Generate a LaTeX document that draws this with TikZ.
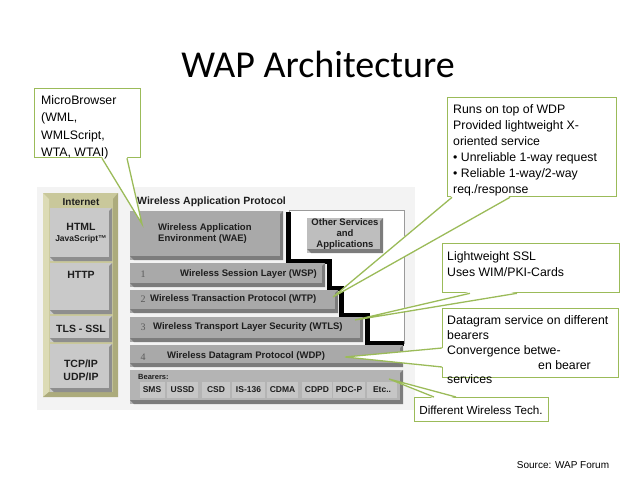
\documentclass[tikz,border=0pt]{standalone}
\usepackage{fontspec}
\setmainfont{Liberation Sans}
\newfontfamily\titlefont{Carlito}
\newfontfamily\numfont{Liberation Serif}

\definecolor{callgreen}{HTML}{9BBB59}
\definecolor{picbg}{HTML}{F3F3F3}
\definecolor{olivemid}{HTML}{C9C89B}
\definecolor{olivelight}{HTML}{DCDBB5}
\definecolor{olivedark}{HTML}{ACAB7C}
\definecolor{inetgray}{HTML}{C9C9C9}
\definecolor{inetdark}{HTML}{8E8E8E}
\definecolor{laygray}{HTML}{A9A9A9}
\definecolor{laydark}{HTML}{7C7C7C}
\definecolor{bearergray}{HTML}{B4B4B4}
\definecolor{cellgray}{HTML}{C6C6C6}
\definecolor{othergray}{HTML}{BEBEBE}
\definecolor{framegray}{HTML}{9A9A9A}
\definecolor{diagtext}{HTML}{1E1E1E}
\definecolor{numgray}{HTML}{5A5A5A}

\tikzset{
  callbox/.style={draw=callgreen, line width=1.3pt, fill=white, inner sep=0pt, anchor=north west},
  wedge/.style={draw=callgreen, line width=1.3pt},
  calltext/.style={font=\fontsize{12.3}{#1}\selectfont, align=left, anchor=north west, inner sep=0pt},
  layer/.style={fill=laygray},
  laybevel/.style={fill=laydark},
  inetbox/.style={fill=inetgray},
  inetbevel/.style={fill=inetdark},
  laytext/.style={font=\bfseries\fontsize{9.5}{11}\selectfont, text=diagtext, inner sep=0pt, anchor=west},
  laynum/.style={font=\numfont\fontsize{10}{12}\selectfont, text=numgray, inner sep=0pt},
  inettext/.style={font=\bfseries\fontsize{10.5}{12}\selectfont, text=diagtext, inner sep=0pt},
  cell/.style={fill=cellgray, font=\bfseries\fontsize{8.5}{10}\selectfont, text=diagtext, inner sep=0pt, minimum height=16pt},
  stair/.style={line width=5pt, black}
}

\begin{document}
\begin{tikzpicture}[x=1pt,y=-1pt]
\useasboundingbox (0,0) rectangle (638,479);

\node[font=\titlefont\fontsize{38}{44}\selectfont] (title) at (318,64) {WAP Architecture};

% the protocol picture
\fill[picbg] (37,187) rectangle (415,410);

% Internet side
\fill[olivemid] (43,193) rectangle (118,397);
\fill[olivelight] (43,193) -- (49,199) -- (49,392) -- (43,397) -- cycle;
\fill[olivedark] (118,193) -- (118,397) -- (43,397) -- (49,392) -- (113,392) -- (113,199) -- cycle;
\fill[inetbox] (50,208) rectangle (112,261);
\fill[inetbevel] (50,257) -- (109,257) -- (109,211) -- (112,208) -- (112,261) -- (54,261) -- cycle;
\fill[inetbox] (50,263) rectangle (112,314);
\fill[inetbevel] (50,310) -- (109,310) -- (109,266) -- (112,263) -- (112,314) -- (54,314) -- cycle;
\fill[inetbox] (50,316) rectangle (112,342);
\fill[inetbevel] (50,338) -- (109,338) -- (109,319) -- (112,316) -- (112,342) -- (54,342) -- cycle;
\fill[inetbox] (50,344) rectangle (112,392);
\fill[inetbevel] (50,388) -- (109,388) -- (109,347) -- (112,344) -- (112,392) -- (54,392) -- cycle;

\node[inettext, font=\bfseries\fontsize{10}{12}\selectfont] (internet) at (81,202) {Internet};
\node[inettext] (html) at (81,227) {HTML};
\node[inettext, font=\bfseries\fontsize{8.5}{10}\selectfont] (js) at (81,239) {JavaScript™};
\node[inettext] (http) at (81,275) {HTTP};
\node[inettext] (tls) at (81,329) {TLS - SSL};
\node[inettext] (tcp) at (81,364) {TCP/IP};
\node[inettext] (udp) at (81,377) {UDP/IP};

% WAP side
\node[laytext, font=\bfseries\fontsize{10.5}{12}\selectfont] (waphead) at (137,202) {Wireless Application Protocol};
\filldraw[fill=white, draw=framegray, line width=0.8pt] (289,210) -- (404,210) -- (404,343) -- (367,343) -- (367,315) -- (340,315) -- (340,289) -- (328,289) -- (328,261) -- (289,261) -- cycle;
\draw[stair] (288,212) -- (288,261) -- (329,261) -- (329,288) -- (341,288) -- (341,315) -- (367,315) -- (367,343) -- (404,343);

\fill[layer] (130,211) rectangle (283,260);
\fill[laybevel] (130,256) -- (280,256) -- (280,214) -- (283,211) -- (283,260) -- (134,260) -- cycle;
\fill[layer] (130,263) rectangle (325,287);
\fill[laybevel] (130,283) -- (322,283) -- (322,266) -- (325,263) -- (325,287) -- (134,287) -- cycle;
\fill[layer] (130,290) rectangle (338,313);
\fill[laybevel] (130,309) -- (335,309) -- (335,293) -- (338,290) -- (338,313) -- (134,313) -- cycle;
\fill[layer] (130,317) rectangle (363,342);
\fill[laybevel] (130,338) -- (360,338) -- (360,320) -- (363,317) -- (363,342) -- (134,342) -- cycle;
\fill[layer] (130,345) rectangle (403,367);
\fill[laybevel] (130,363) -- (400,363) -- (400,348) -- (403,345) -- (403,367) -- (134,367) -- cycle;
\fill[bearergray] (130,370) rectangle (403,404);
\fill[laybevel] (130,400) -- (400,400) -- (400,373) -- (403,370) -- (403,404) -- (134,404) -- cycle;
\fill[othergray] (307,218) rectangle (383,253);
\fill[laybevel] (307,249) -- (380,249) -- (380,221) -- (383,218) -- (383,253) -- (311,253) -- cycle;

\node[laytext, align=left] (wae) at (158,233.5) {Wireless Application\\Environment (WAE)};
\node[laytext, anchor=center, align=center, font=\bfseries\fontsize{9.5}{10.8}\selectfont] (other) at (345,234) {Other Services\\and\\Applications};
\node[laynum] (n1) at (143,274) {1};
\node[laytext] (wsp) at (180,274) {Wireless Session Layer (WSP)};
\node[laynum] (n2) at (143,299) {2};
\node[laytext] (wtp) at (150,299) {Wireless Transaction Protocol (WTP)};
\node[laynum] (n3) at (143,327) {3};
\node[laytext] (wtls) at (153,327) {Wireless Transport Layer Security (WTLS)};
\node[laynum] (n4) at (143,357) {4};
\node[laytext] (wdp) at (167,356) {Wireless Datagram Protocol (WDP)};
\node[laytext, font=\bfseries\fontsize{7.5}{9}\selectfont] (bearers) at (138,377) {Bearers:};
\node[cell, minimum width=25pt] (sms) at (152,390) {SMS};
\node[cell, minimum width=31pt] (ussd) at (182.5,390) {USSD};
\node[cell, minimum width=28pt] (csd) at (216,390) {CSD};
\node[cell, minimum width=33pt] (is) at (248.5,390) {IS-136};
\node[cell, minimum width=31pt] (cdma) at (282.5,390) {CDMA};
\node[cell, minimum width=30pt] (cdpd) at (317,390) {CDPD};
\node[cell, minimum width=32pt] (pdc) at (349,390) {PDC-P};
\node[cell, minimum width=30pt] (etc) at (382,390) {Etc..};

\coordinate (tipwae) at (142,224);
\coordinate (tipwtp) at (333,297);
\coordinate (tipwtls) at (355,320);
\coordinate (tipwdp) at (345,357);
\coordinate (tipbear) at (389,379);

% callouts
\node[callbox, minimum width=106pt, minimum height=69pt] (mbbox) at (34,88) {};
\fill[white] ([xshift=68pt,yshift=1.5pt]mbbox.south west) -- (tipwae) -- ([xshift=93pt,yshift=1.5pt]mbbox.south west) -- cycle;
\draw[wedge] ([xshift=68pt]mbbox.south west) -- (tipwae) -- ([xshift=93pt]mbbox.south west);
\node[calltext=17.3] (mbtext) at (41,95.5) {MicroBrowser\\(WML,\\WMLScript,\\WTA, WTAI)};

\node[callbox, minimum width=169pt, minimum height=99pt] (runbox) at (447,97) {};
\fill[white] ([xshift=5pt,yshift=1.5pt]runbox.south west) -- (tipwtp) -- ([xshift=63pt,yshift=1.5pt]runbox.south west) -- cycle;
\draw[wedge] ([xshift=5pt]runbox.south west) -- (tipwtp) -- ([xshift=63pt]runbox.south west);
\node[calltext=15.9] (runtext) at (453,104.5) {Runs on top of WDP\\Provided lightweight X-\\oriented service\\• Unreliable 1-way request\\• Reliable 1-way/2-way\\req./response};

\node[callbox, minimum width=177pt, minimum height=49pt] (sslbox) at (442,243) {};
\fill[white] ([xshift=28pt,yshift=1.5pt]sslbox.south west) -- (tipwtls) -- ([xshift=75pt,yshift=1.5pt]sslbox.south west) -- cycle;
\draw[wedge] ([xshift=28pt]sslbox.south west) -- (tipwtls) -- ([xshift=75pt]sslbox.south west);
\node[calltext=16] (ssltext) at (447,251) {Lightweight SSL\\Uses WIM/PKI-Cards};

\node[callbox, minimum width=176pt, minimum height=69pt] (dgbox) at (442,308) {};
\fill[white] ([yshift=-40pt,xshift=1.5pt]dgbox.north west) -- (tipwdp) -- ([yshift=-59pt,xshift=1.5pt]dgbox.north west) -- cycle;
\draw[wedge] ([yshift=-40pt]dgbox.north west) -- (tipwdp) -- ([yshift=-59pt]dgbox.north west);
\node[calltext=14.8] (dgtext) at (447,315.5) {Datagram service on different\\bearers\\Convergence betwe-\\\hspace*{91pt}en bearer\\services};

\node[callbox, minimum width=134pt, minimum height=24pt] (difbox) at (414,397) {};
\fill[white] ([xshift=20pt,yshift=-1.5pt]difbox.north west) -- (tipbear) -- ([xshift=42pt,yshift=-1.5pt]difbox.north west) -- cycle;
\draw[wedge] ([xshift=20pt]difbox.north west) -- (tipbear) -- ([xshift=42pt]difbox.north west);
\node[font=\fontsize{11.7}{14}\selectfont, inner sep=0pt] (diftext) at (481,410) {Different Wireless Tech.};

\node[font=\fontsize{10}{12}\selectfont, inner sep=0pt] (source) at (563,465) {Source: WAP Forum};
\end{tikzpicture}
\end{document}
